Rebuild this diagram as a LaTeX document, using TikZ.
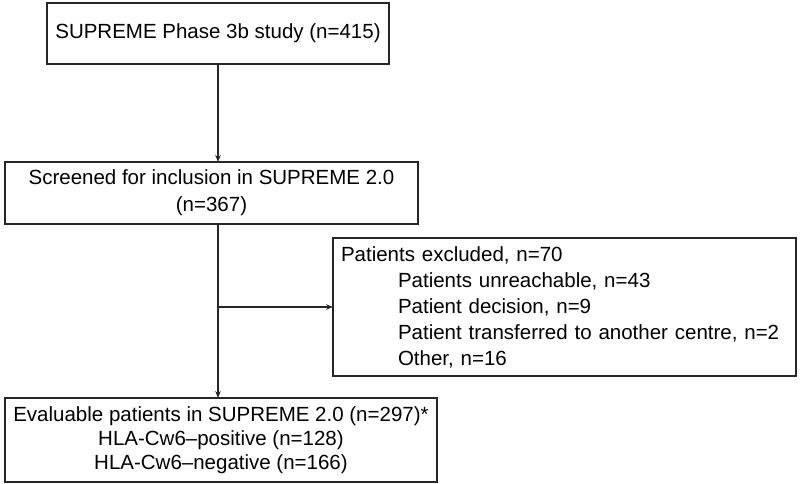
\documentclass[tikz,border=0pt]{standalone}
\usepackage{fontspec}
\setmainfont{Liberation Sans}
\usetikzlibrary{arrows.meta,calc}
\begin{document}
\begin{tikzpicture}[x=1pt,y=-1pt,
  box/.style={draw=black!85, line width=1.3pt, inner sep=0pt, outer sep=0pt},
  conn/.style={draw=black!85, line width=1.3pt, -{Stealth[length=7pt,width=5.5pt]}},
  line/.style={draw=black!85, line width=1.3pt}]
\useasboundingbox (0,0) rectangle (800,484);
\node[box, minimum width=342pt, minimum height=61pt, font=\fontsize{20.5}{27}\selectfont] (b1) at (218,33.5) {SUPREME Phase 3b study (n=415)};
\node[box, minimum width=413pt, minimum height=62pt, align=center, font=\fontsize{20.5}{27}\selectfont] (b2) at (211.5,193) {Screened for inclusion in SUPREME 2.0\\(n=367)};
\node[box, minimum width=463pt, minimum height=138pt, text width=447pt, inner xsep=8pt, align=left, font=\fontsize{20.5}{26}\selectfont] (b3) at (564.5,307) {Patients excluded, n=70\\
\hspace*{57pt}Patients unreachable, n=43\\
\hspace*{57pt}Patient decision, n=9\\
\hspace*{57pt}Patient transferred to another centre, n=2\\
\hspace*{57pt}Other, n=16};
\node[box, minimum width=432pt, minimum height=84pt, align=center, font=\fontsize{20.5}{24}\selectfont] (b4) at (221,440) {Evaluable patients in SUPREME 2.0 (n=297)*\\HLA-Cw6--positive (n=128)\\HLA-Cw6--negative (n=166)};
\coordinate (s2) at (b1.south |- b2.south);
\coordinate (br) at (b1.south |- b3.west);
\draw[conn] (b1.south) -- (b1.south |- b2.north);
\draw[conn] (s2) -- (b1.south |- b4.north);
\draw[conn] (br) -- (b3.west);
\end{tikzpicture}
\end{document}
